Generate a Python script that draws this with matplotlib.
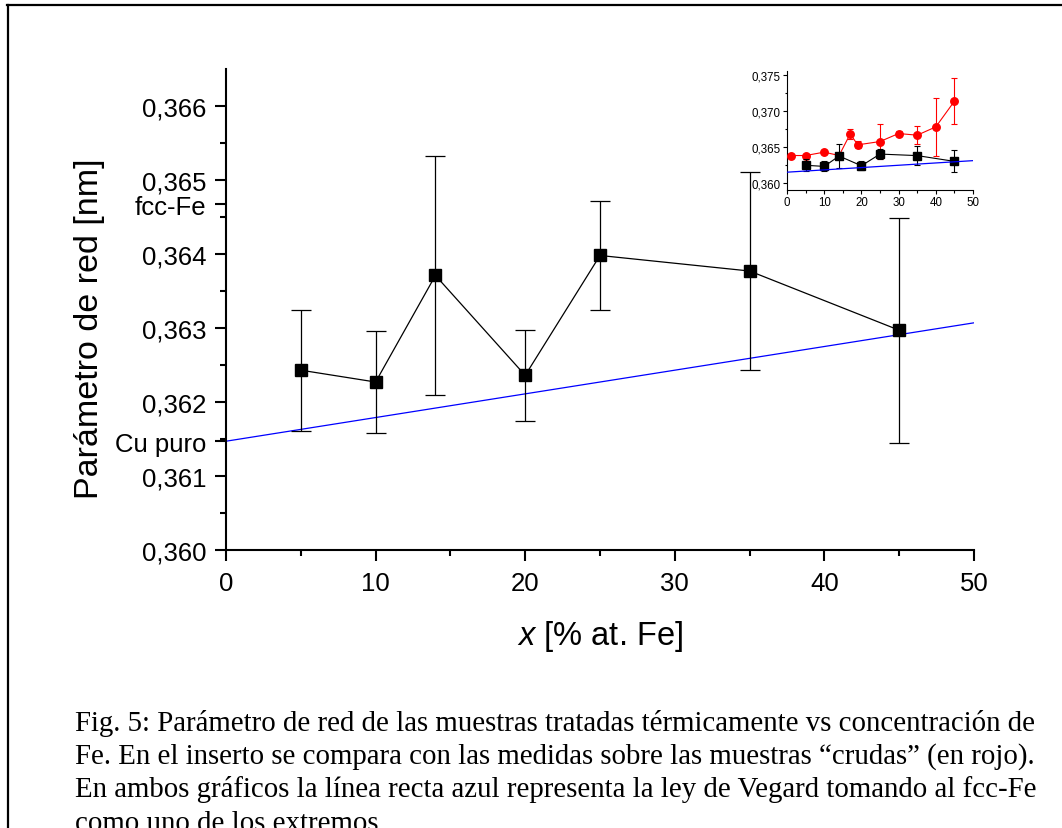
import matplotlib
matplotlib.use("Agg")
import matplotlib.pyplot as plt
from matplotlib.lines import Line2D

# ---------------- data ----------------
x_treated = [5, 10, 14, 20, 25, 35, 45]
a_treated = [0.36243, 0.36227, 0.36371, 0.36236, 0.36398, 0.36377, 0.36297]
err_treated = [0.00082, 0.00069, 0.00162, 0.00061, 0.00073, 0.00134, 0.00152]

x_raw = [1, 5, 10, 14, 17, 19, 25, 30, 35, 40, 45]
a_raw = [0.36378, 0.36378, 0.36425, 0.36378, 0.36678, 0.36526, 0.36572,
         0.36683, 0.36660, 0.36775, 0.37131]
err_raw = [0.0002, 0.0002, 0.0002, 0.0002, 0.0007, 0.0005, 0.0024,
           0.0003, 0.00125, 0.0040, 0.0032]

vegard_x = [0, 50]
vegard_a = [0.36147, 0.36307]

a_cu = 0.36147
a_fe = 0.36467

main_yticks = [0.360, 0.361, 0.362, 0.363, 0.364, 0.365, 0.366]
main_ylabels = ["0,360", "0,361", "0,362", "0,363", "0,364", "0,365", "0,366"]
ref_labels = ["Cu puro", "fcc-Fe"]
main_xticks = [0, 10, 20, 30, 40, 50]
main_xlabels = ["0", "10", "20", "30", "40", "50"]

inset_yticks = [0.360, 0.365, 0.370, 0.375]
inset_ylabels = ["0,360", "0,365", "0,370", "0,375"]

caption_lines = [
    "Fig. 5: Parámetro de red de las muestras tratadas térmicamente vs concentración de",
    "Fe. En el inserto se compara con las medidas sobre las muestras \u201ccrudas\u201d (en rojo).",
    "En ambos gráficos la línea recta azul representa la ley de Vegard tomando al fcc-Fe",
    "como uno de los extremos",
]

# ---------------- figure ----------------
plt.rcParams['font.family'] = ['Liberation Sans', 'DejaVu Sans']
plt.rcParams['mathtext.fontset'] = 'custom'
plt.rcParams['mathtext.rm'] = 'Liberation Sans'
plt.rcParams['mathtext.it'] = 'Liberation Sans:italic'

W, H = 1062, 829
fig = plt.figure(figsize=(W / 100, H / 100), dpi=100)


def px_axes(left, top, right, bottom):
    return [left / W, 1 - bottom / H, (right - left) / W, (bottom - top) / H]


# border lines (frame of the figure panel)
fig.add_artist(Line2D([7 / W, 1.0], [1 - 6 / H, 1 - 6 / H], color='black', lw=1.6))
fig.add_artist(Line2D([8 / W, 8 / W], [1 - 6 / H, 0.0], color='black', lw=1.6))

# ---------------- main axes ----------------
ax = fig.add_axes(px_axes(226, 70, 974, 551))
ax.errorbar(x_treated, a_treated, yerr=err_treated, fmt='-s', color='black',
            ms=8.6, lw=0.9, elinewidth=0.9, capsize=7.5, capthick=0.9,
            mec='black', mfc='black', zorder=3)
ax.plot(vegard_x, vegard_a, color='#0000ff', lw=0.9, zorder=2)

ax.set_xlim(0, 50)
ax.set_ylim(0.360, 0.3665)
for s in ['top', 'right']:
    ax.spines[s].set_visible(False)
for s in ['left', 'bottom']:
    ax.spines[s].set_linewidth(1.5)

ax.set_xticks(main_xticks)
ax.set_xticklabels(main_xlabels)
ax.set_xticks([5, 15, 25, 35, 45], minor=True)
ax.set_yticks(main_yticks + [a_cu, a_fe])
ax.set_yticklabels(main_ylabels + ref_labels)
ax.set_yticks([0.3605, 0.3615, 0.3625, 0.3635, 0.3645, 0.3655], minor=True)
ax.tick_params(which='major', direction='out', length=8, width=1.5,
               labelsize=18.5)
ax.tick_params(which='minor', direction='out', length=4.3, width=1.5)
ax.tick_params(axis='x', which='major', pad=7)
ax.tick_params(axis='y', which='major', pad=6)

fig.text(90 / W, 1 - 329 / H, "Parámetro de red [nm]", rotation=90,
         ha='center', va='center', fontsize=24.5)
fig.text(600 / W, 1 - 637 / H, r"$x$ [% at. Fe]", ha='center', va='center',
         fontsize=23.5)

# ---------------- inset ----------------
ins = fig.add_axes(px_axes(787, 72, 973, 191))
ins.errorbar(x_raw, a_raw, yerr=err_raw, fmt='-o', color='#ff0000', ms=5.4,
             lw=0.8, elinewidth=0.8, capsize=2, capthick=0.8,
             mec='#ff0000', mfc='#ff0000', zorder=3)
ins.errorbar(x_treated, a_treated, yerr=err_treated, fmt='-s', color='black',
             ms=5.2, lw=0.8, elinewidth=0.8, capsize=2, capthick=0.8,
             zorder=4)
ins.plot(vegard_x, vegard_a, color='#0000ff', lw=0.9, zorder=5)
ins.set_xlim(0, 50)
ins.set_ylim(0.359, 0.3755)
for s in ['top', 'right']:
    ins.spines[s].set_visible(False)
for s in ['left', 'bottom']:
    ins.spines[s].set_linewidth(0.8)
ins.set_xticks(main_xticks)
ins.set_xticklabels(main_xlabels)
ins.set_xticks([5, 15, 25, 35, 45], minor=True)
ins.set_yticks(inset_yticks)
ins.set_yticklabels(inset_ylabels)
ins.set_yticks([0.3625, 0.3675, 0.3725], minor=True)
ins.tick_params(which='major', direction='out', length=3, width=0.8,
                labelsize=8.3, pad=1.5)
ins.tick_params(which='minor', direction='out', length=1.8, width=0.8)

# ---------------- caption ----------------
baselines = [731, 764, 797, 831]
for line, yb in zip(caption_lines, baselines):
    fig.text(75 / W, 1 - yb / H, line, ha='left', va='baseline',
             fontsize=20.8, family=['Liberation Serif', 'DejaVu Serif'])

fig.savefig("out.png", dpi=100)
